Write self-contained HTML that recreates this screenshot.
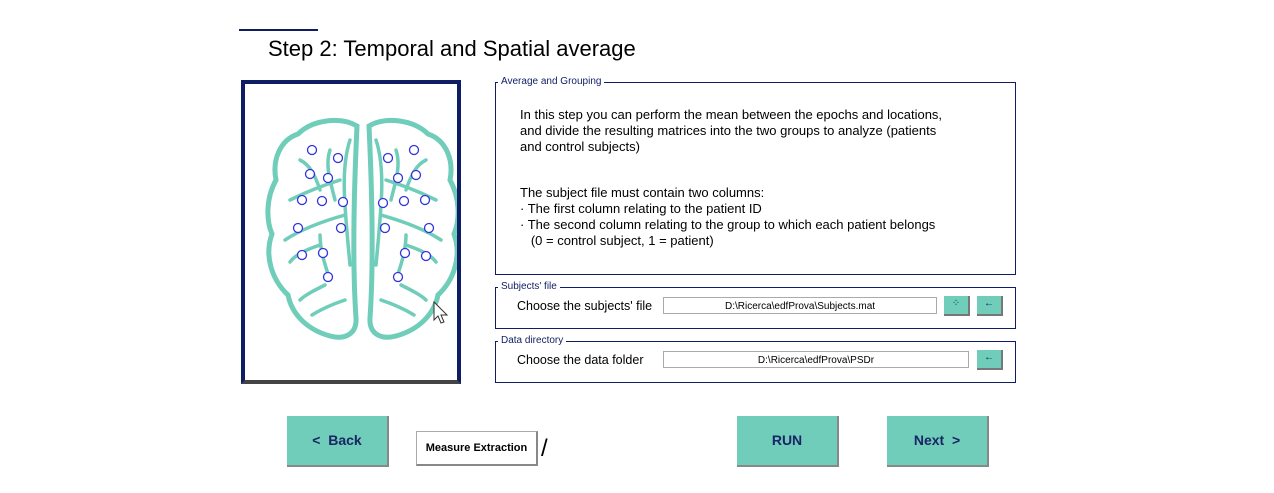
<!DOCTYPE html>
<html><head><meta charset="utf-8"><style>
body{margin:0;width:1274px;height:493px;background:#fff;position:relative;overflow:hidden;font-family:"Liberation Sans",sans-serif}
.a{position:absolute}
fieldset{position:absolute;border:1px solid #0f1e64;margin:0;padding:0;box-sizing:border-box}
legend{font-size:10px;color:#0f1e64;padding:0 3px;margin-left:2px;line-height:10px}
.txt{font-size:12.5px;color:#000}
.inp{position:absolute;border:1px solid #aaa;background:#fff;font-size:10px;text-align:center;line-height:17px;height:17px;box-sizing:border-box}
.sb{position:absolute;background:#6fcdb9;border-right:2px solid #777;border-bottom:2px solid #777;box-sizing:border-box;font-size:10px;text-align:center;line-height:16px;color:#0f1e64}
.btn{position:absolute;background:#6fcdb9;border-right:2px solid #888;border-bottom:2px solid #888;box-sizing:border-box;color:#1a2466;font-weight:bold;font-size:14px;text-align:center}
</style></head><body>
<div class="a" style="left:239px;top:29px;width:79px;height:2px;background:#0f1e64"></div>
<div class="a" style="left:268px;top:36px;font-size:22px">Step 2: Temporal and Spatial average</div>
<div class="a" style="left:241px;top:80px;width:220px;height:304px;border:4px solid #0f1e64;border-bottom-color:#444;box-sizing:border-box;background:#fff">
<svg width="212" height="296" style="position:absolute;left:0;top:0">
<g transform="translate(-245,-84)" fill="none" stroke="#6fcdb9" stroke-width="5" stroke-linecap="round">
<path d="M357,126 C340,116 312,120 298,134 C280,140 272,160 276,180 C266,198 266,220 272,234 C264,256 272,280 288,295 C292,315 308,330 330,336 C345,340 357,334 356,318 C352,260 354,190 357,126 Z"/>
<path d="M369,126 C386,116 414,120 428,134 C446,140 454,160 450,180 C460,198 460,220 454,234 C462,256 454,280 438,295 C434,315 418,330 396,336 C381,340 369,334 370,318 C374,260 372,190 369,126 Z"/>
<g stroke-width="3.5">
<path d="M350,140 C340,170 345,210 350,265 M345,215 C320,222 300,230 285,240 M340,180 C325,185 310,190 290,200 M330,150 C325,165 330,180 335,200 M320,235 C320,250 325,265 330,280 M320,245 C305,250 295,255 290,262 M345,300 C330,305 320,310 312,315 M300,160 C310,165 315,175 320,190 M325,285 C315,290 305,295 300,300"/>
<path d="M376,140 C386,170 381,210 376,265 M381,215 C406,222 426,230 441,240 M386,180 C401,185 416,190 436,200 M396,150 C401,165 396,180 391,200 M406,235 C406,250 401,265 396,280 M406,245 C421,250 431,255 436,262 M381,300 C396,305 406,310 414,315 M426,160 C416,165 411,175 406,190 M401,285 C411,290 421,295 426,300"/>
</g></g>
<g id="el" transform="translate(-245,-84)" fill="#fff" stroke="#3333dd" stroke-width="1.3"></g>
<path d="M434,302 l0,18 l4,-4 l3,7 l3,-1 l-3,-7 l6,0 z" transform="translate(-245,-84)" fill="#fff" stroke="#333" stroke-width="1"/>
</svg></div>
<script>
const ex=[312,338,310,328,302,322,343,298,341,302,323,328,414,388,416,398,383,404,425,385,429,405,426,398];
const ey=[150,158,174,178,200,201,202,228,228,255,253,277,150,158,175,178,203,201,200,228,228,253,256,277];
const g=document.getElementById('el');
for(let i=0;i<ex.length;i++){const c=document.createElementNS('http://www.w3.org/2000/svg','circle');c.setAttribute('cx',ex[i]);c.setAttribute('cy',ey[i]);c.setAttribute('r',4.5);


g.appendChild(c);}
</script>
<fieldset style="left:495px;top:77px;width:521px;height:198px"><legend>Average and Grouping</legend>
<div class="a txt" style="left:24px;top:20px;line-height:16px;font-size:13px">In this step you can perform the mean between the epochs and locations,<br>and divide the resulting matrices into the two groups to analyze (patients<br>and control subjects)</div>
<div class="a txt" style="left:24px;top:98px;line-height:16px;font-size:13px">The subject file must contain two columns:<br>· The first column relating to the patient ID<br>· The second column relating to the group to which each patient belongs<br>&nbsp;&nbsp;&nbsp;(0 = control subject, 1 = patient)</div>
</fieldset>
<fieldset style="left:495px;top:282px;width:521px;height:47px"><legend>Subjects' file</legend></fieldset>
<div class="a txt" style="left:517px;top:299px">Choose the subjects' file</div>
<div class="inp" style="left:663px;top:297px;width:274px">D:\Ricerca\edfProva\Subjects.mat</div>
<div class="sb" style="left:944px;top:296px;width:26px;height:20px">⁘</div>
<div class="sb" style="left:977px;top:296px;width:26px;height:20px">←</div>
<fieldset style="left:495px;top:336px;width:521px;height:47px"><legend>Data directory</legend></fieldset>
<div class="a txt" style="left:517px;top:353px">Choose the data folder</div>
<div class="inp" style="left:663px;top:351px;width:306px">D:\Ricerca\edfProva\PSDr</div>
<div class="sb" style="left:977px;top:350px;width:26px;height:20px">←</div>
<div class="btn" style="left:287px;top:416px;width:102px;height:51px;line-height:49px">&lt;&nbsp; Back</div>
<div class="a" style="left:416px;top:431px;width:122px;height:35px;border:1px solid #aaa;border-right:2px solid #888;border-bottom:2px solid #888;box-sizing:border-box;font-size:11px;font-weight:bold;text-align:center;line-height:33px">Measure Extraction</div>
<div class="a" style="left:541px;top:434px;font-size:24px;line-height:30px">/</div>
<div class="btn" style="left:737px;top:416px;width:102px;height:51px;line-height:49px">RUN</div>
<div class="btn" style="left:887px;top:416px;width:102px;height:51px;line-height:49px">Next&nbsp; &gt;</div>
</body></html>
